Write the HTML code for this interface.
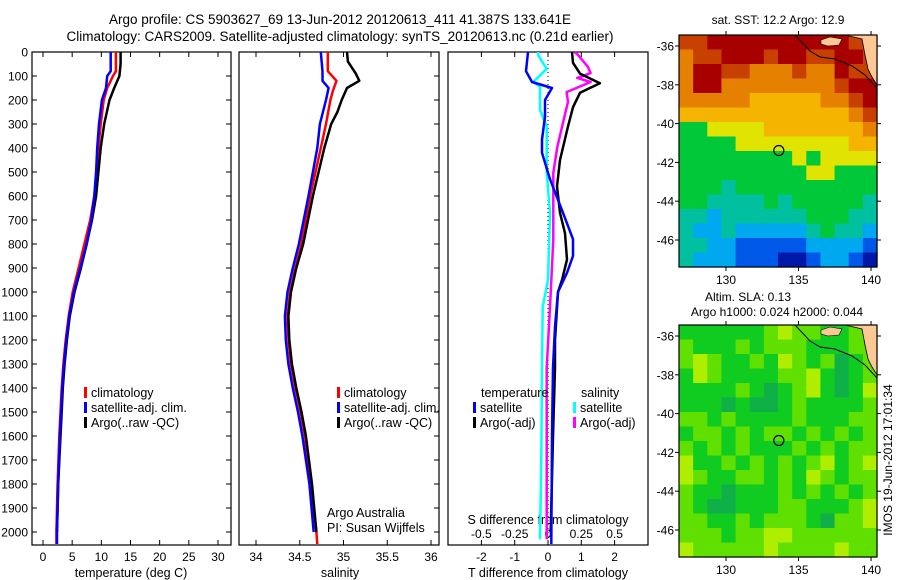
<!DOCTYPE html>
<html><head><meta charset="utf-8">
<style>
html,body{margin:0;padding:0;background:#fff;}
svg{display:block;font-family:"Liberation Sans",sans-serif;}
</style></head>
<body>
<svg id="fig" width="900" height="580" viewBox="0 0 900 580" xmlns="http://www.w3.org/2000/svg">
<text x="340" y="24" font-size="13.5" text-anchor="middle">Argo profile: CS 5903627_69 13-Jun-2012 20120613_411 41.387S 133.641E</text>
<text x="340" y="41" font-size="13.5" text-anchor="middle">Climatology: CARS2009. Satellite-adjusted climatology: synTS_20120613.nc (0.21d earlier)</text>
<g id="p1"></g>
<g id="p2"></g>
<g id="p3"></g>
<g id="m1"></g>
<g id="m2"></g>
<text x="892" y="460" font-size="12" text-anchor="middle" transform="rotate(-90 892 460)">IMOS 19-Jun-2012 17:01:34</text>
</svg>
<script>
// ---------- data ----------
const depthTicks=[0,100,200,300,400,500,600,700,800,900,1000,1100,1200,1300,1400,1500,1600,1700,1800,1900,2000];
const tempTicks=[0,5,10,15,20,25,30];
const salTicks=[34,34.5,35,35.5,36];
const diffTTicks=[-2,-1,0,1,2];
const diffSTickLabels=["-0.5","-0.25","0","0.25","0.5"];
const lonTicks=[130,135,140];
const latTicks=[-36,-38,-40,-42,-44,-46];

const tClimD=[0,80,100,150,200,300,400,500,600,700,800,900,1000,1100,1200,1300,1400,1500,1600,1800,2000,2050];
const tClimV=[12.5,12.5,12.0,11.0,10.4,9.9,9.5,9.2,8.8,8.1,7.1,6.1,5.1,4.4,3.9,3.5,3.2,3.0,2.8,2.5,2.3,2.3];
const tSatD=[0,80,100,150,200,300,400,500,600,700,800,900,1000,1100,1200,1300,1400,1500,1600,1800,2000,2050];
const tSatV=[11.6,11.6,11.0,10.8,10.1,9.6,9.3,9.1,8.8,8.3,7.5,6.4,5.3,4.5,4.0,3.6,3.3,3.1,2.9,2.6,2.4,2.4];
const tArgoD=[0,50,100,150,200,300,400,500,600,700,800,900,1000,1100,1200,1300,1400,1500,1600,1800,2000];
const tArgoV=[13.3,13.3,13.1,12.2,11.4,10.5,9.9,9.5,9.1,8.4,7.5,6.5,5.4,4.6,4.1,3.7,3.4,3.2,3.0,2.6,2.4];
const sClimD=[0,80,120,160,200,300,400,600,800,900,1000,1100,1200,1300,1400,1500,1600,1800,2000,2050];
const sClimV=[34.82,34.82,34.92,34.88,34.85,34.80,34.74,34.62,34.52,34.45,34.39,34.36,34.37,34.40,34.45,34.51,34.56,34.63,34.69,34.70];
const sSatD=[0,80,120,150,200,300,400,600,800,900,1000,1100,1200,1300,1400,1500,1600,1800,2000];
const sSatV=[34.74,34.76,34.76,34.83,34.80,34.73,34.70,34.60,34.49,34.42,34.36,34.33,34.34,34.37,34.42,34.48,34.53,34.61,34.66];
const sArgoD=[0,40,90,120,150,200,250,300,400,600,800,900,1000,1100,1200,1300,1400,1500,1600,1800,2000];
const sArgoV=[35.04,35.05,35.14,35.18,35.04,34.98,34.93,34.86,34.78,34.65,34.54,34.46,34.40,34.37,34.38,34.41,34.46,34.52,34.57,34.64,34.69];
const dTSatD=[0,80,125,150,200,270,365,420,530,670,780,850,920,1000,1145,1315,1600,2050];
const dTSatV=[-0.6,-0.66,-0.48,0.12,-0.09,-0.09,-0.18,-0.18,0.06,0.45,0.75,0.75,0.57,0.3,0.21,0.15,0.12,0.1];
const dTArgoD=[0,45,90,130,170,230,310,450,560,670,755,865,950,1000,1200,1315,1600,2000];
const dTArgoV=[0.72,0.75,0.96,1.56,0.96,0.75,0.6,0.36,0.27,0.36,0.51,0.57,0.42,0.3,0.21,0.21,0.15,0.08];
const dSSatD=[0,12,70,125,145,240,310,500,670,950,1063,1317,1700,2030];
const dSSatV=[-0.075,-0.075,-0.01,-0.11,-0.06,-0.06,-0.01,-0.01,0.015,0,-0.04,-0.045,-0.05,-0.06];
const dSArgoD=[0,12,62,88,108,125,167,208,254,396,504,783,1063,1317,1700,2030];
const dSArgoV=[0.2,0.225,0.3,0.32,0.22,0.32,0.14,0.15,0.13,0.07,0.04,0.04,0.015,-0.01,-0.01,-0.01];

// SST map grid (colour level 0=dark blue .. 9=dark red), rows north->south
const sstRows=[
[8,8,9,9,9,9,9,9,9,9,9,9,8,8],
[7,8,8,9,9,9,8,9,9,8,8,9,9,8],
[7,9,9,8,8,7,7,7,8,7,7,9,8,8],
[7,9,9,7,7,7,7,7,7,7,7,8,9,9],
[7,7,7,7,7,6,6,6,6,6,7,7,8,9],
[6,6,6,6,6,6,6,6,6,6,6,6,7,8],
[4,4,5,5,5,5,6,6,6,6,6,6,6,7],
[4,4,4,4,5,5,5,5,5,5,5,5,6,6],
[4,4,4,4,4,4,4,4,5,4,5,5,5,5],
[4,4,4,4,4,4,4,4,4,5,5,4,4,4],
[4,4,4,3,4,4,4,4,4,4,4,4,4,4],
[4,4,3,3,3,3,4,3,4,4,4,4,4,3],
[3,3,2,3,3,3,3,3,3,4,4,4,3,3],
[3,2,2,3,2,2,2,2,2,3,4,3,3,2],
[3,3,2,2,1,1,1,1,1,2,2,2,2,1],
[3,2,2,2,1,1,1,0,0,1,2,2,1,0]];
// SLA map grid (0=dark green .. 4=yellow)
const slaRows=[
[1,1,1,1,1,1,2,3,2,2,1,1,2,3],
[2,1,1,1,2,1,2,2,2,1,1,1,2,2],
[2,3,2,1,1,2,1,3,2,1,2,0,1,2],
[1,3,2,1,1,1,1,2,2,3,1,0,1,2],
[1,1,1,1,2,1,0,1,2,3,1,0,1,3],
[1,1,1,0,1,0,0,1,2,1,1,1,1,2],
[2,2,1,2,1,1,1,1,2,1,1,1,2,2],
[1,2,2,1,2,1,2,2,1,2,1,2,1,2],
[2,1,2,1,2,1,1,1,2,1,2,1,2,2],
[3,1,1,2,1,2,1,2,1,2,3,1,2,3],
[3,2,1,1,2,2,1,2,1,3,2,1,2,2],
[2,1,1,0,1,1,1,2,1,2,1,2,1,2],
[2,1,0,0,1,1,1,2,2,1,1,1,2,3],
[2,2,1,1,2,1,2,2,2,1,0,2,2,3],
[2,2,2,1,2,2,3,3,2,2,2,2,2,2],
[3,2,2,2,2,2,3,2,2,2,2,3,2,2]];
const sstColors=["#0018a8","#0058e8","#00a8f0","#00c0a0","#00c838","#e0e400","#f4b400","#e68000","#c84000","#a80000"];
const slaColors=["#10b048","#10cc20","#60e000","#b0ee00","#e8f000"];
const argoLon=133.641, argoLat=-41.387;

// ---------- helpers ----------
const NS="http://www.w3.org/2000/svg";
function mk(parent,tag,attrs,txt){const e=document.createElementNS(NS,tag);for(const k in attrs)e.setAttribute(k,attrs[k]);if(txt!==undefined)e.textContent=txt;parent.appendChild(e);return e;}
const Y0=52, YPX=0.24;
function yD(d){return Y0+d*YPX;}
const PT=52, PB=545;
function panelFrame(g,x0,x1,name){
  const r=mk(g,'rect',{x:x0,y:PT,width:x1-x0,height:PB-PT,fill:'none',stroke:'#000','stroke-width':1.2});
  
  
}
function xTicks(g,xs,labels,ly,name){
  xs.forEach((x,i)=>{
    mk(g,'line',{x1:x,y1:PT,x2:x,y2:PT+5,stroke:'#000'});
    mk(g,'line',{x1:x,y1:PB,x2:x,y2:PB-5,stroke:'#000'});
    const t=mk(g,'text',{x:x,y:ly,'font-size':12,'text-anchor':'middle'},labels[i]);
    
    
  });
}
function profile(g,xf,ds,vs,color,name,w){
  let d='';
  ds.forEach((dep,i)=>{d+=(i?'L':'M')+xf(vs[i]).toFixed(1)+','+yD(dep).toFixed(1);});
  const p=mk(g,'path',{d:d,fill:'none',stroke:color,'stroke-width':w||2.5,'stroke-linejoin':'round'});
  
  
}
function legend(g,x,y,items,name){
  items.forEach((it,i)=>{
    const yy=y+i*15;
    if(it[0])mk(g,'rect',{x:x,y:yy-10,width:3,height:11,fill:it[0]});
    const t=mk(g,'text',{x:x+7,y:yy,'font-size':12.5},it[1]);
    
    
  });
}

// ---------- panel 1 ----------
const g1=document.getElementById('p1');
const xT=v=>43+v*5.833;
panelFrame(g1,32,231,'temperature-panel');
depthTicks.forEach(d=>{
  mk(g1,'line',{x1:32,y1:yD(d),x2:37,y2:yD(d),stroke:'#000'});
  mk(g1,'line',{x1:231,y1:yD(d),x2:226,y2:yD(d),stroke:'#000'});
  mk(g1,'line',{x1:439,y1:yD(d),x2:434,y2:yD(d),stroke:'#000'});
  const t=mk(g1,'text',{x:28,y:yD(d)+4.5,'font-size':12,'text-anchor':'end'},String(d));
  
  
});
xTicks(g1,tempTicks.map(xT),tempTicks.map(String),561,'temperature');
mk(g1,'text',{x:131,y:577,'font-size':12.5,'text-anchor':'middle',},'temperature (deg C)');
profile(g1,xT,tClimD,tClimV,'#ff0000','temperature-climatology-line');
profile(g1,xT,tArgoD,tArgoV,'#000000','temperature-argo-line');
profile(g1,xT,tSatD,tSatV,'#0000ff','temperature-satellite-line');
legend(g1,84,397,[['#ff0000','climatology'],['#0000ff','satellite-adj. clim.'],['#000','Argo(..raw -QC)']],'temperature-legend');

// ---------- panel 2 ----------
const g2=document.getElementById('p2');
const xS=v=>256+(v-34)*87.5;
panelFrame(g2,239,439,'salinity-panel');
xTicks(g2,salTicks.map(xS),salTicks.map(String),561,'salinity');
mk(g2,'text',{x:340,y:577,'font-size':12.5,'text-anchor':'middle',},'salinity');
profile(g2,xS,sClimD,sClimV,'#ff0000','salinity-climatology-line');
profile(g2,xS,sArgoD,sArgoV,'#000000','salinity-argo-line');
profile(g2,xS,sSatD,sSatV,'#0000ff','salinity-satellite-line');
legend(g2,337,397,[['#ff0000','climatology'],['#0000ff','satellite-adj. clim.'],['#000','Argo(..raw -QC)']],'salinity-legend');
mk(g2,'text',{x:327,y:517,'font-size':12.5,},'Argo Australia');
mk(g2,'text',{x:327,y:532,'font-size':12.5,},'PI: Susan Wijffels');

// ---------- panel 3 ----------
const g3=document.getElementById('p3');
const xDT=v=>548+v*33.3;
const xDS=v=>548+v*133.2;
panelFrame(g3,448,648,'difference-panel');
xTicks(g3,diffTTicks.map(xDT),diffTTicks.map(String),561,'t-difference');
const sTickVals=diffSTickLabels.map(Number);
sTickVals.forEach((v,i)=>{
  const t=mk(g3,'text',{x:xDS(v),y:538,'font-size':12,'text-anchor':'middle'},diffSTickLabels[i]);
  
  
});
mk(g3,'text',{x:548,y:524,'font-size':12.5,'text-anchor':'middle',},'S difference from climatology');
mk(g3,'text',{x:548,y:577,'font-size':12.5,'text-anchor':'middle',},'T difference from climatology');
mk(g3,'line',{x1:xDT(0),y1:PT,x2:xDT(0),y2:PB,stroke:'#000','stroke-dasharray':'1,3',});
profile(g3,xDS,dSSatD,dSSatV,'#00ffff','salinity-satellite-diff-line');
profile(g3,xDS,dSArgoD,dSArgoV,'#ff00ff','salinity-argo-diff-line');
profile(g3,xDT,dTArgoD,dTArgoV,'#000000','temperature-argo-diff-line');
profile(g3,xDT,dTSatD,dTSatV,'#0000ff','temperature-satellite-diff-line');
legend(g3,473,397,[[null,'temperature'],['#0000ff','satellite'],['#000','Argo(-adj)']],'t-diff-legend');
legend(g3,573,397,[[null,'salinity'],['#00ffff','satellite'],['#ff00ff','Argo(-adj)']],'s-diff-legend');
g3.querySelectorAll('text').forEach(t=>{if(t.textContent==='temperature')t.setAttribute('x',481);if(t.textContent==='salinity')t.setAttribute('x',581);});

// ---------- maps ----------
const ML=679, MR=877, lonL=126.76, lonR=140.41;
const mx=lon=>ML+(lon-lonL)*(MR-ML)/(lonR-lonL);
function drawMap(gid,top,bot,rows,colors,name){
  const g=document.getElementById(gid);
  const nR=rows.length, nC=rows[0].length;
  const cw=(MR-ML)/nC, ch=(bot-top)/nR;
  rows.forEach((row,r)=>row.forEach((v,c)=>{
    const cell=mk(g,'rect',{x:(ML+c*cw).toFixed(2),y:(top+r*ch).toFixed(2),width:(cw+0.6).toFixed(2),height:(ch+0.6).toFixed(2),fill:colors[v]});
    
    
  }));
  const yl=lat=>top+11+(-36-lat)*19.4;
  mk(g,'path',{d:`M845,${top}L862,${top+4}L865,${top+20}L868,${top+34}L872,${top+42}L877,${top+50}L877,${top}Z`,fill:'#fcc896',stroke:'#000','stroke-width':0.8,});
  mk(g,'path',{d:`M821,${top+5}L830,${top+2}L842,${top+4}L839,${top+10}L828,${top+11}L821,${top+9}Z`,fill:'#fcc896',stroke:'#000','stroke-width':0.6,});
  mk(g,'path',{d:`M795,${top}L810,${top+16}L820,${top+22}L835,${top+24}L852,${top+31}L865,${top+40}L877,${top+53}`,fill:'none',stroke:'#000','stroke-width':1,});
  mk(g,'rect',{x:ML,y:top,width:MR-ML,height:bot-top,fill:'none',stroke:'#000','stroke-width':1.2,});
  lonTicks.forEach(l=>{
    mk(g,'line',{x1:mx(l),y1:top,x2:mx(l),y2:top-4,stroke:'#000'});
    mk(g,'line',{x1:mx(l),y1:bot,x2:mx(l),y2:bot+4,stroke:'#000'});
    const t=mk(g,'text',{x:mx(l),y:bot+17,'font-size':12,'text-anchor':'middle'},String(l));
    
    
  });
  latTicks.forEach(l=>{
    mk(g,'line',{x1:ML,y1:yl(l),x2:ML-4,y2:yl(l),stroke:'#000'});
    mk(g,'line',{x1:MR,y1:yl(l),x2:MR+4,y2:yl(l),stroke:'#000'});
    const t=mk(g,'text',{x:674,y:yl(l)+4.5,'font-size':12,'text-anchor':'end'},String(l));
    
    
  });
  const c=mk(g,'circle',{cx:mx(argoLon),cy:yl(argoLat),r:5,fill:'none',stroke:'#000','stroke-width':1.2});
  
  
}
drawMap('m1',35,267,sstRows,sstColors,'sst-map');
drawMap('m2',325,557,slaRows,slaColors,'sla-map');
mk(document.getElementById('m1'),'text',{x:778,y:24,'font-size':12,'text-anchor':'middle',},'sat. SST: 12.2 Argo: 12.9');
mk(document.getElementById('m2'),'text',{x:748,y:301,'font-size':12,'text-anchor':'middle',},'Altim. SLA: 0.13');
mk(document.getElementById('m2'),'text',{x:777,y:316,'font-size':12,'text-anchor':'middle',},'Argo h1000: 0.024 h2000: 0.044');
</script>
</body></html>
